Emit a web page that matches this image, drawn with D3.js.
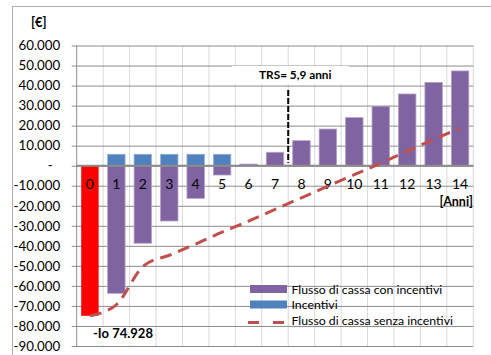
<!DOCTYPE html>
<html>
<head>
<meta charset="utf-8">
<script src="https://cdn.jsdelivr.net/npm/d3@7"></script>
<style>
  html, body { margin: 0; padding: 0; background: #fff; }
  svg { display: block; font-family: Lato, "Open Sans", sans-serif; }
</style>
</head>
<body>
<svg id="chart" width="491" height="355"></svg>
<script>
// Years of the investment horizon
const anni = ["0","1","2","3","4","5","6","7","8","9","10","11","12","13","14"];
// Cumulative cash flow with incentives (year 0 = initial investment)
const flussoConIncentivi = [-74928, -63700, -38700, -27600, -16300, -4650, 800, 6700, 12500, 18300, 24000, 29700, 35800, 41600, 47300];
// Yearly incentives
const incentivi = [0, 5700, 5700, 5700, 5700, 5700, 0, 0, 0, 0, 0, 0, 0, 0, 0];
// Cumulative cash flow without incentives
const flussoSenzaIncentivi = [-74928, -69400, -50400, -44700, -39100, -33200, -27700, -21800, -16000, -10200, -4500, 1200, 7300, 13100, 18800];
// Value axis ticks
const yTicks = [60000, 50000, 40000, 30000, 20000, 10000, 0, -10000, -20000, -30000, -40000, -50000, -60000, -70000, -80000, -90000];
const legendLabels = ["Flusso di cassa con incentivi", "Incentivi", "Flusso di cassa senza incentivi"];
const trsLabel = "TRS= 5,9 anni";
const investimentoLabel = "-Io 74.928";

const svg = d3.select("#chart");
const plot = { left: 76.7, right: 473.3, top: 45.5, bottom: 346 };

const x = d3.scaleBand().domain(anni).range([plot.left, plot.right])
  .paddingInner(0.34).paddingOuter(0.17);
const step = x.step();
const y = d3.scaleLinear().domain([-90000, 60000]).range([plot.bottom, plot.top]);

const fmt = v => v === 0 ? "-" : d3.format(",")(v).replace(/,/g, ".").replace("−", "-");

// Outer chart frame
svg.append("rect").attr("x", 12.5).attr("y", 6.5).attr("width", 520).attr("height", 420)
  .attr("fill", "none").attr("stroke", "#b0b0b0");

// Vertical gridlines at category boundaries
const bounds = anni.map((d, i) => plot.left + (i + 1) * step);
svg.append("g").selectAll("line").data(bounds).join("line")
  .attr("x1", d => d).attr("x2", d => d)
  .attr("y1", plot.top).attr("y2", plot.bottom)
  .attr("stroke", "#d9d9d9").attr("stroke-width", 1);

// Value axis with horizontal gridlines
const yAxis = d3.axisLeft(y).tickValues(yTicks).tickFormat(fmt)
  .tickSize(-(plot.right - plot.left)).tickPadding(12);
const gy = svg.append("g").attr("transform", `translate(${plot.left},0)`).call(yAxis);
gy.select(".domain").remove();
gy.selectAll(".tick line").attr("stroke", "#8c8c8c").attr("x1", -5);
gy.selectAll(".tick text").attr("fill", "#000").attr("font-size", 13.3)
  .attr("font-family", "Lato, sans-serif")
  .attr("x", d => d === 0 ? -24 : -16.5);
svg.append("line").attr("x1", plot.left).attr("x2", plot.left)
  .attr("y1", plot.top).attr("y2", plot.bottom).attr("stroke", "#8c8c8c");

// Incentive bars (positive stack)
svg.append("g").selectAll("rect").data(anni.filter((d, i) => incentivi[i] > 0)).join("rect")
  .attr("x", d => x(d)).attr("width", x.bandwidth())
  .attr("y", d => y(incentivi[anni.indexOf(d)]))
  .attr("height", d => y(0) - y(incentivi[anni.indexOf(d)]))
  .attr("fill", "#4f81bd").attr("stroke", "#95b3d7").attr("stroke-width", 0.8);

// Cash-flow bars with incentives (year 0 is the investment)
svg.append("g").selectAll("rect").data(anni).join("rect")
  .attr("x", d => x(d)).attr("width", x.bandwidth())
  .attr("y", (d, i) => y(Math.max(0, flussoConIncentivi[i])))
  .attr("height", (d, i) => Math.abs(y(flussoConIncentivi[i]) - y(0)))
  .attr("fill", (d, i) => i === 0 ? "#ff0000" : "#8064a2")
  .attr("stroke", (d, i) => i === 0 ? "none" : "#b3a2c7").attr("stroke-width", 0.8);

// Zero (category) axis
svg.append("line").attr("x1", plot.left).attr("x2", plot.right)
  .attr("y1", y(0)).attr("y2", y(0)).attr("stroke", "#8c8c8c").attr("stroke-width", 2);

// Category labels next to the zero line
svg.append("g").selectAll("text").data(anni).join("text")
  .attr("x", d => x(d) + x.bandwidth() / 2).attr("y", y(0) + 23)
  .attr("text-anchor", "middle").attr("font-size", 14).attr("fill", "#000").text(d => d);

// Cash flow without incentives
const line = d3.line()
  .x((d, i) => x(anni[i]) + x.bandwidth() / 2)
  .y(d => y(d))
  .curve(d3.curveCardinal);
svg.append("path").datum(flussoSenzaIncentivi)
  .attr("d", line).attr("fill", "none")
  .attr("stroke", "#c0504d").attr("stroke-width", 3)
  .attr("stroke-dasharray", "12,7");

// Payback time marker
const trsX = plot.left + 8 * step;
svg.append("line").attr("x1", trsX).attr("x2", trsX)
  .attr("y1", 90).attr("y2", y(0) - 3)
  .attr("stroke", "#000").attr("stroke-width", 2).attr("stroke-dasharray", "6,2");
svg.append("rect").attr("x", 232).attr("y", 66).attr("width", 117).attr("height", 18).attr("fill", "#fff");
svg.append("text").attr("x", 259).attr("y", 78.5).attr("font-size", 11.8)
  .attr("font-weight", "bold").attr("fill", "#000").text(trsLabel);

// Axis titles
svg.append("text").attr("x", 31).attr("y", 27).attr("font-size", 13)
  .attr("font-weight", "bold").text("[€]");
svg.append("text").attr("x", 473).attr("y", 206).attr("text-anchor", "end")
  .attr("font-size", 12.5).attr("font-weight", "bold").text("[Anni]");

// Investment label
svg.append("rect").attr("x", 82).attr("y", 327).attr("width", 72).attr("height", 18).attr("fill", "#fff");
svg.append("text").attr("x", 93).attr("y", 338).attr("font-size", 13)
  .attr("font-weight", "bold").text(investimentoLabel);

// Legend
const lg = svg.append("g").attr("font-size", 12.3).attr("fill", "#000");
lg.append("rect").attr("x", 250).attr("y", 285).attr("width", 37).attr("height", 8).attr("fill", "#8064a2");
lg.append("rect").attr("x", 250).attr("y", 300.5).attr("width", 37).attr("height", 8).attr("fill", "#4f81bd");
lg.append("line").attr("x1", 248).attr("x2", 287).attr("y1", 322.5).attr("y2", 322.5)
  .attr("stroke", "#c0504d").attr("stroke-width", 3).attr("stroke-dasharray", "11,14");
legendLabels.forEach((t, i) => {
  lg.append("text").attr("x", 291.5).attr("y", 293.5 + i * 15.5).text(t);
});
</script>
</body>
</html>
